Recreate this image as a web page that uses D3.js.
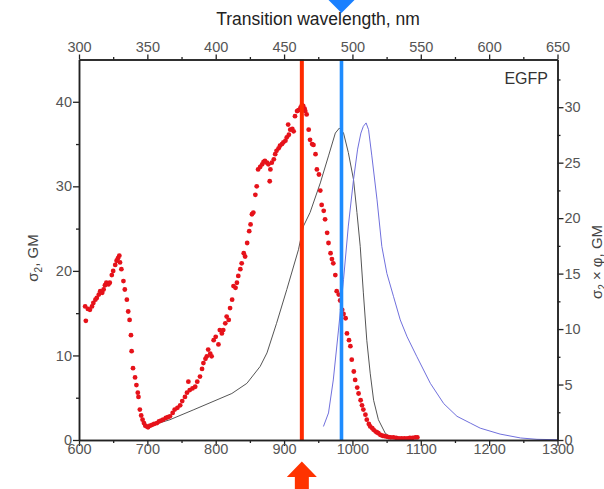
<!DOCTYPE html>
<html>
<head>
<meta charset="utf-8">
<script src="https://cdn.jsdelivr.net/npm/d3@7"></script>
<style>
  body { margin: 0; background: #fff; }
  svg { display: block; font-family: "Liberation Sans", Arial, sans-serif; }
</style>
</head>
<body>
<div id="chart"></div>
<script>
// two-photon cross section (red dots), bottom axis wavelength in nm, left axis GM
var tpWave = [609,610,613,616,619,621,624,626,629,631,634,636,638,640,643,645,648,650,653,655,657,659,660,662,665,667,670,672,674,676,677,679,682,684,686,687,689,691,693,695,697,699,701,704,707,710,714,717,720,723,727,730,733,737,740,744,748,751,755,758,760,762,766,770,773,777,780,782,785,787,789,792,794,797,800,804,806,809,811,814,816,819,821,824,826,829,831,833,836,838,841,843,846,849,851,853,855,858,860,862,865,868,870,872,875,877,879,880,882,885,887,889,892,894,897,899,902,904,906,907,909,912,914,916,919,921,924,926,928,930,931,933,936,938,941,943,946,948,951,953,955,958,960,963,965,968,970,972,975,977,980,982,985,987,990,992,995,997,999,1002,1004,1007,1009,1012,1014,1016,1019,1021,1024,1026,1029,1031,1034,1036,1038,1041,1044,1047,1050,1053,1056,1060,1064,1068,1072,1076,1080,1084,1088,1092,1095];
var tpSigma = [15.8,14.1,15.5,15.4,15.8,16.2,16.6,16.8,17.2,17.6,17.4,17.8,18.3,18.6,18.4,18.6,19.5,20.0,20.7,21.2,21.5,21.8,21.0,20.2,18.8,17.8,16.6,15.2,14.2,12.4,10.5,8.5,7.4,6.5,5.6,5.1,3.6,2.9,2.4,2.0,1.7,1.6,1.5,1.7,1.8,1.9,2.0,2.2,2.3,2.4,2.6,2.7,2.8,3.2,3.6,3.8,4.1,4.6,5.1,5.6,6.9,5.9,6.1,6.3,6.9,7.5,8.4,9.1,9.6,9.9,10.7,10.2,9.9,11.8,12.2,11.3,13.0,12.6,13.0,13.8,14.6,14.2,15.6,16.6,18.2,18.0,18.6,19.4,20.2,20.9,22.1,21.7,23.3,24.7,25.5,26.7,26.9,29.0,30.0,32.0,32.3,32.6,32.9,33.0,32.8,32.6,30.6,32.0,32.8,33.2,33.8,34.2,34.5,34.8,35.0,35.2,35.4,35.8,37.3,36.1,36.7,36.8,36.5,38.3,38.9,39.0,39.3,39.6,39.5,39.2,38.9,38.5,36.7,35.5,35.0,34.9,33.8,32.0,31.4,29.5,27.8,27.1,26.1,24.5,23.3,22.1,21.4,20.9,19.5,17.6,17.2,16.5,15.4,14.9,14.4,12.6,11.8,11.1,9.5,8.1,7.1,6.2,5.5,4.7,4.1,3.6,3.0,2.4,1.9,1.6,1.4,1.2,1.0,0.9,0.8,0.6,0.5,0.45,0.4,0.35,0.3,0.3,0.25,0.2,0.2,0.2,0.2,0.25,0.25,0.3,0.3];

// one-photon absorption (grey), top axis wavelength in nm
var absWave = [350.5,366.5,383.5,411.8,422.8,432.5,437.5,444.5,452,460.5,464.2,469,476.5,482.5,487.5,490.5,493.5,497,500.8,503.3,505.7,508,510.5,513,515.5,519,524,527.5,531];
var absVal = [1.6,2.4,3.55,5.5,6.7,8.7,10.3,13.8,17.8,22.5,25.3,26.9,30.4,33.6,36.3,36.9,36.3,34.0,30.8,26.9,22.9,17.4,11.8,7.9,4.7,2.4,0.8,0.4,0.2];

// fluorescence emission (blue), top axis wavelength in nm
var emWave = [478.8,482.5,486,489.8,493.5,497,500.8,503.8,506.2,508,510,511.8,514.2,518,521.5,525.2,530,535,540,547,557,566.8,576.5,586.2,593.5,608,623,635,650];
var emVal = [1.6,3.2,7.1,13,19,25.3,30.8,34.4,36.3,37.1,37.5,36.7,33.6,28.4,22.9,19.7,17,14.2,12.2,9.9,6.7,4.3,2.8,2.0,1.4,0.7,0.24,0.08,0.03];

// laser lines, bottom axis nm
var laserWave = [926, 984];
var laserColor = ["#ff2a00", "#1e8cff"];

var bottomTicks = [600,700,800,900,1000,1100,1200,1300];
var bottomMinor = [650,750,850,950,1050,1150,1250];
var topTicks = [300,350,400,450,500,550,600,650];
var topMinor = [325,375,425,475,525,575,625];
var leftTicks = [0,10,20,30,40];
var leftMinor = [5,15,25,35];
var rightTicks = [0,5,10,15,20,25,30];
var rightMinor = [2.5,7.5,12.5,17.5,22.5,27.5,32.5];

var width = 604, height = 489;
var padL = 79, padR = 557.5, padT = 59.5, padB = 440;

var svg = d3.select("#chart").append("svg")
  .attr("width", width)
  .attr("height", height);

var xB = d3.scaleLinear().domain([600, 1300]).range([padL, padR]);
var xT = d3.scaleLinear().domain([300, 650]).range([padL, padR]);
var yL = d3.scaleLinear().domain([0, 45]).range([padB, padT]);
var yR = d3.scaleLinear().domain([0, 34.3]).range([padB, padT]);

/* curves */
var absLine = d3.line().x((d, i) => xT(absWave[i])).y(d => yL(d));
svg.append("path")
  .attr("d", absLine(absVal))
  .attr("fill", "none")
  .attr("stroke", "#555")
  .attr("stroke-width", 1);

var emLine = d3.line().x((d, i) => xT(emWave[i])).y(d => yL(d));
svg.append("path")
  .attr("d", emLine(emVal))
  .attr("fill", "none")
  .attr("stroke", "#7070dd")
  .attr("stroke-width", 1);

svg.append("g").selectAll("circle")
  .data(tpSigma).enter()
  .append("circle")
  .attr("cx", (d, i) => xB(tpWave[i]))
  .attr("cy", d => yL(d))
  .attr("r", 2.4)
  .attr("fill", "#e6121a");

/* laser lines */
svg.append("g").selectAll("line")
  .data(laserWave).enter()
  .append("line")
  .attr("x1", d => xB(d)).attr("x2", d => xB(d))
  .attr("y1", padT).attr("y2", padB)
  .attr("stroke", (d, i) => laserColor[i])
  .attr("stroke-width", (d, i) => i == 0 ? 4 : 3.6);

/* markers outside the frame */
var rx = xB(laserWave[0]);
svg.append("path")
  .attr("d", `M${rx},461.5 L${rx+15},477 L${rx+7},477 L${rx+7},489 L${rx-7},489 L${rx-7},477 L${rx-15},477 Z`)
  .attr("fill", "#ff3300");
var bx = xB(laserWave[1]);
svg.append("path")
  .attr("d", `M${bx-14},-1 L${bx+14},-1 L${bx},13 Z`)
  .attr("fill", "#1a80ff");

/* axes */
function styleAxis(g) {
  g.select(".domain").attr("stroke", "#222").attr("stroke-width", 1.5);
  g.selectAll(".tick line").attr("stroke", "#222").attr("stroke-width", 1.3);
  g.selectAll("text").attr("fill", "#555").style("font-size", "14.5px")
    .style("font-family", '"Liberation Sans", Arial, sans-serif');
}
var fmt = d3.format("d");

svg.append("g").attr("transform", `translate(0,${padB})`)
  .call(d3.axisBottom(xB).tickValues(bottomTicks).tickFormat(fmt).tickSize(6).tickSizeOuter(0).tickPadding(0))
  .call(styleAxis)
  .selectAll("text").attr("y", 4);
svg.append("g").attr("transform", `translate(0,${padB})`)
  .call(d3.axisBottom(xB).tickValues(bottomMinor).tickSize(3).tickSizeOuter(0).tickFormat(""))
  .call(styleAxis);

svg.append("g").attr("transform", `translate(0,${padT})`)
  .call(d3.axisTop(xT).tickValues(topTicks).tickFormat(fmt).tickSize(5).tickSizeOuter(0).tickPadding(2.5))
  .call(styleAxis);
svg.append("g").attr("transform", `translate(0,${padT})`)
  .call(d3.axisTop(xT).tickValues(topMinor).tickSize(2.5).tickSizeOuter(0).tickFormat(""))
  .call(styleAxis);

svg.append("g").attr("transform", `translate(${padL},0)`)
  .call(d3.axisLeft(yL).tickValues(leftTicks).tickFormat(fmt).tickSize(6).tickSizeOuter(0).tickPadding(1))
  .call(styleAxis);
svg.append("g").attr("transform", `translate(${padL},0)`)
  .call(d3.axisLeft(yL).tickValues(leftMinor).tickSize(3).tickSizeOuter(0).tickFormat(""))
  .call(styleAxis);

svg.append("g").attr("transform", `translate(${padR},0)`)
  .call(d3.axisRight(yR).tickValues(rightTicks).tickFormat(fmt).tickSize(6).tickSizeOuter(0).tickPadding(1))
  .call(styleAxis);
svg.append("g").attr("transform", `translate(${padR},0)`)
  .call(d3.axisRight(yR).tickValues(rightMinor).tickSize(3).tickSizeOuter(0).tickFormat(""))
  .call(styleAxis);

/* titles */
svg.append("text")
  .attr("x", 318).attr("y", 25)
  .attr("text-anchor", "middle")
  .attr("fill", "#222")
  .style("font-size", "17.5px")
  .text("Transition wavelength, nm");

svg.append("text")
  .attr("x", 548).attr("y", 84)
  .attr("text-anchor", "end")
  .attr("fill", "#333")
  .style("font-size", "16px")
  .text("EGFP");

var yl = svg.append("text")
  .attr("transform", "translate(38,258) rotate(-90)")
  .attr("text-anchor", "middle")
  .attr("fill", "#444")
  .style("font-size", "15px");
yl.append("tspan").text("σ");
yl.append("tspan").attr("dy", 4).style("font-size", "10px").text("2");
yl.append("tspan").attr("dy", -4).text(", GM");

var yr = svg.append("text")
  .attr("transform", "translate(602,262) rotate(-90)")
  .attr("text-anchor", "middle")
  .attr("fill", "#444")
  .style("font-size", "15px");
yr.append("tspan").text("σ");
yr.append("tspan").attr("dy", 4).style("font-size", "10px").text("2");
yr.append("tspan").attr("dy", -4).text(" × φ, GM");
</script>
</body>
</html>
